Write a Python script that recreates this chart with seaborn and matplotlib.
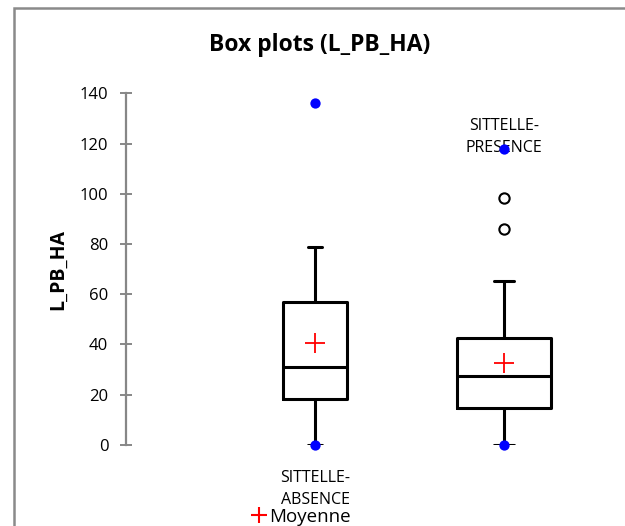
import matplotlib
matplotlib.use("Agg")
import matplotlib.pyplot as plt
import seaborn as sns
import pandas as pd
from matplotlib.patches import Rectangle
from matplotlib.lines import Line2D

# ==========================================
# données
# ==========================================
groups = ["SITTELLE-\nABSENCE", "SITTELLE-\nPRESENCE"]
positions = [0, 1]
q1 = [18.4, 14.5]
medians = [31.1, 27.4]
q3 = [57.0, 42.4]
whis_low = [0.0, 0.0]
whis_high = [78.7, 65.1]
means = [40.7, 32.5]
minimum = [0.0, 0.0]
maximum = [136.2, 117.7]
outliers = [[], [85.9, 98.2]]
box_widths = [0.338, 0.502]
cap_widths = [0.074, 0.11]

sns.set_theme(style="white")
plt.rcParams['font.family'] = ['Open Sans', 'DejaVu Sans']
plt.rcParams['text.color'] = 'black'

fig = plt.figure(figsize=(6.25, 5.26), dpi=100)
ax = fig.add_axes([126 / 625, 81.2 / 526, 499 / 625, 351.5 / 526])

stats = []
for i in range(len(groups)):
    stats.append(dict(q1=q1[i], med=medians[i], q3=q3[i],
                      whislo=whis_low[i], whishi=whis_high[i],
                      fliers=[], label=groups[i]))

line_kw = dict(color="black", linewidth=2.2)
for i, st in enumerate(stats):
    ax.bxp([st], positions=[positions[i]], widths=box_widths[i],
           capwidths=cap_widths[i], showfliers=False,
           boxprops=line_kw, whiskerprops=line_kw, capprops=line_kw,
           medianprops=line_kw, manage_ticks=False)

# outliers (cercles vides)
out_df = pd.DataFrame({
    "x": [positions[i] for i in range(len(groups)) for _ in outliers[i]],
    "y": [v for i in range(len(groups)) for v in outliers[i]],
})
sns.scatterplot(data=out_df, x="x", y="y", ax=ax, marker="o", s=55,
                facecolor="white", edgecolor="black", linewidth=1.5,
                zorder=5, clip_on=False)

# minimum / maximum (points bleus)
ext_df = pd.DataFrame({"x": positions + positions, "y": minimum + maximum})
sns.scatterplot(data=ext_df, x="x", y="y", ax=ax, marker="o", s=55,
                color="#0000ff", edgecolor="#0000ff", linewidth=0,
                zorder=6, clip_on=False)

# moyennes
mean_df = pd.DataFrame({"x": positions, "y": means})
sns.scatterplot(data=mean_df, x="x", y="y", ax=ax, marker="+", s=190,
                color="#ff0000", linewidth=1.3, zorder=6)

ax.set_xlim(-1, 1.64)
ax.set_ylim(0, 140)
ax.set_yticks(range(0, 141, 20))
ax.set_xticks([])
ax.set_xlabel("")
ax.set_ylabel("L_PB_HA", fontsize=14, fontweight="bold", color="black")
ax.yaxis.set_label_coords(-(126 - 68) / 499, 0.5)
for s in ["top", "right", "bottom"]:
    ax.spines[s].set_visible(False)
ax.spines["left"].set_color("#878787")
ax.spines["left"].set_linewidth(1.6)
ax.tick_params(axis="y", left=True, direction="inout", length=8.5, width=1.4,
               color="#878787", labelsize=12, labelcolor="black", pad=8.5)
ax.patch.set_alpha(0)

# étiquettes des groupes
ax.text(positions[0], -10, groups[0], ha="center", va="top",
        fontsize=11.5, color="black", linespacing=1.5)
ax.text(positions[1], 122.6, groups[1], ha="center", va="center",
        fontsize=11.5, color="black", linespacing=1.5)

fig.suptitle("Box plots (L_PB_HA)", x=320 / 625, y=1 - 45 / 526, va="center",
             fontsize=16.5, fontweight="bold", color="black")

handle = Line2D([], [], marker="+", color="#ff0000", linestyle="none",
                markersize=11, markeredgewidth=1.5)
fig.legend([handle], ["Moyenne"], loc="center",
           bbox_to_anchor=(302 / 625, 1 - 517 / 526), frameon=False,
           fontsize=13.5, handlelength=0.6, handletextpad=0.25,
           borderpad=0, borderaxespad=0)

# cadre gris du graphique
fig.patches.append(Rectangle((13.5 / 625, -0.2), 1.2, 1.2 - 7.5 / 526,
                             transform=fig.transFigure, fill=False,
                             edgecolor="#8a8a8a", linewidth=1.8))

fig.savefig("out.png", dpi=100)
